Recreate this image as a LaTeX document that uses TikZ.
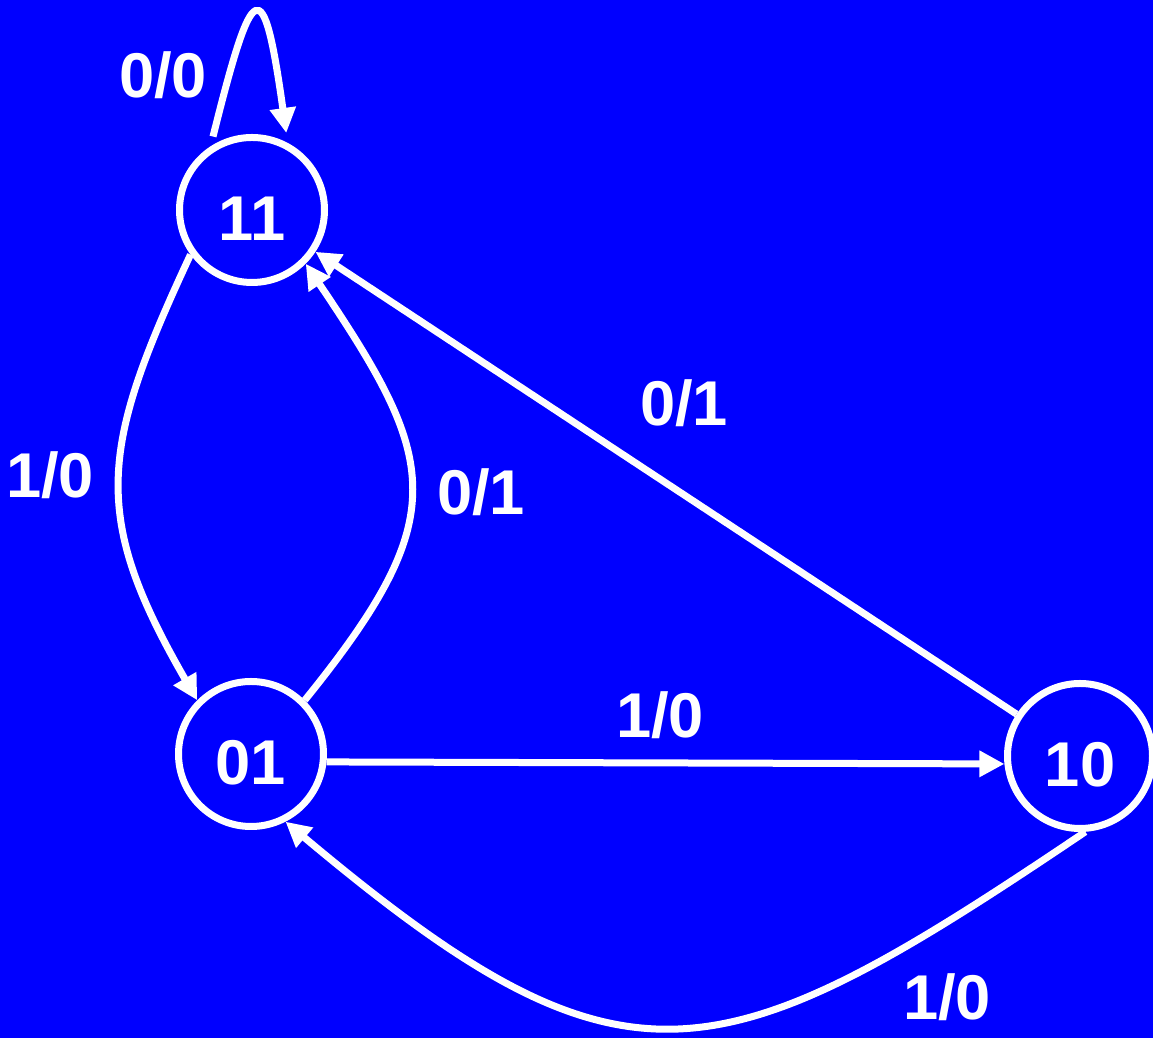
\documentclass[tikz,border=0pt]{standalone}
\usepackage{fontspec}
\setmainfont{Liberation Sans}
\usetikzlibrary{arrows.meta,calc}
\definecolor{bgblue}{RGB}{0,0,255}

\begin{document}
\begin{tikzpicture}[line width=0.14cm,>={Triangle[length=0.5cm,width=0.5cm]},
  state/.style={circle,draw=white,minimum size=2.9cm,inner sep=0pt,
    text=white,font=\fontsize{36pt}{40pt}\bfseries,text height=1.24cm,text depth=0pt},
  edge/.style={->,draw=white},
  lab/.style={text=white,font=\fontsize{36pt}{40pt}\bfseries,inner sep=0pt}]
% background
\useasboundingbox (0,0) rectangle (23.06,20.76);
\fill[bgblue] (0,0) rectangle (23.06,20.76);
% states
\node[state] (n11) at (5.04,16.56) {11};
\node[state] (n01) at (5.02,5.68) {01};
\node[state] (n10) at (21.6,5.64) {10};
% self loop on 11
\draw[edge,shorten <=0.2cm,shorten >=0.2cm] (n11.123) .. controls +(76:3.5) and +(98:3.5) .. (n11.62);
\node[lab] (l00) at (3.26,19.26) {0/0};
% between 11 and 01
\draw[edge] (n11.216) to[out=245,in=120,looseness=1.23] (n01.135);
\node[lab] (l10a) at (1.0,11.26) {1/0};
\draw[edge] (n01.45) to[out=51,in=304,looseness=1.39] (n11.315);
\node[lab] (l01a) at (9.62,10.92) {0/1};
% 10 back to 11
\draw[edge] (n10) -- (n11);
\node[lab] (l01b) at (13.68,12.7) {0/1};
% 01 to 10 and back
\draw[edge] (n01.-6) -- (n10.186);
\node[lab] (l10b) at (13.2,6.46) {1/0};
\draw[edge] (n10.274) to[out=214,in=320,looseness=1.42] (n01.297);
\node[lab] (l10c) at (18.94,0.82) {1/0};
\end{tikzpicture}
\end{document}
